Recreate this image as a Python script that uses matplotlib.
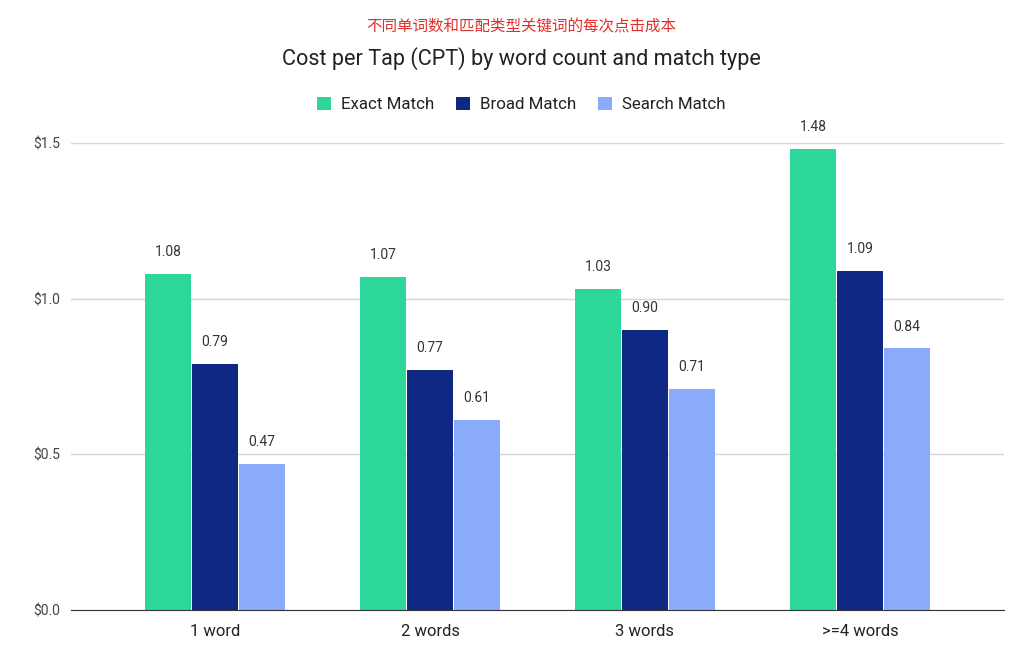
import matplotlib.pyplot as plt
import numpy as np

plt.rcParams["font.family"] = ["Roboto", "Noto Sans CJK SC", "DejaVu Sans"]

categories = ["1 word", "2 words", "3 words", ">=4 words"]
series_names = ["Exact Match", "Broad Match", "Search Match"]
exact = [1.08, 1.07, 1.03, 1.48]
broad = [0.79, 0.77, 0.90, 1.09]
search = [0.47, 0.61, 0.71, 0.84]
colors = ["#2dd699", "#0f2884", "#8aabfa"]
y_ticks = [0.0, 0.5, 1.0, 1.5]

fig = plt.figure(figsize=(10.24, 6.67), dpi=100)
ax = fig.add_axes([0.0693, 0.0855, 0.9112, 0.7001])

x = np.arange(len(categories))
width = 0.21
step = 0.2186
for i, (vals, name, col) in enumerate(zip([exact, broad, search], series_names, colors)):
    pos = x + (i - 1) * step
    ax.bar(pos, vals, width=width, color=col, label=name, zorder=3)
    for px, v in zip(pos, vals):
        ax.text(px, v + 0.048, f"{v:.2f}", ha="center", va="bottom",
                fontsize=10, color="#333333", clip_on=False)

ax.set_xlim(-0.67, 3.67)
ax.set_ylim(0, 1.5)
ax.set_yticks(y_ticks)
ax.set_yticklabels([f"${t:.1f}" for t in y_ticks], fontsize=10, color="#444444")
ax.set_xticks(x)
ax.set_xticklabels(categories, fontsize=12, color="#222222")
ax.tick_params(axis="both", length=0)
ax.tick_params(axis="y", pad=8)
ax.tick_params(axis="x", pad=10)
ax.grid(axis="y", color="#d6d6d6", linewidth=1, zorder=0)
for s in ["top", "right", "left"]:
    ax.spines[s].set_visible(False)
ax.spines["bottom"].set_color("#333333")
ax.spines["bottom"].set_zorder(4)

fig.text(0.509, 0.959, "不同单词数和匹配类型关键词的每次点击成本", ha="center", va="center",
         fontsize=11.2, color="#e0302a", family=["Noto Sans CJK SC", "DejaVu Sans"])
fig.text(0.509, 0.912, "Cost per Tap (CPT) by word count and match type", ha="center",
         va="center", fontsize=15.6, color="#222222")

handles, labels = ax.get_legend_handles_labels()
fig.legend(handles, labels, loc="center", bbox_to_anchor=(0.509, 0.843), ncol=3,
           frameon=False, fontsize=12.2, handlelength=0.8, handleheight=0.8,
           handletextpad=0.6, columnspacing=1.3, labelcolor="#222222")

fig.savefig("out.png", dpi=100)
